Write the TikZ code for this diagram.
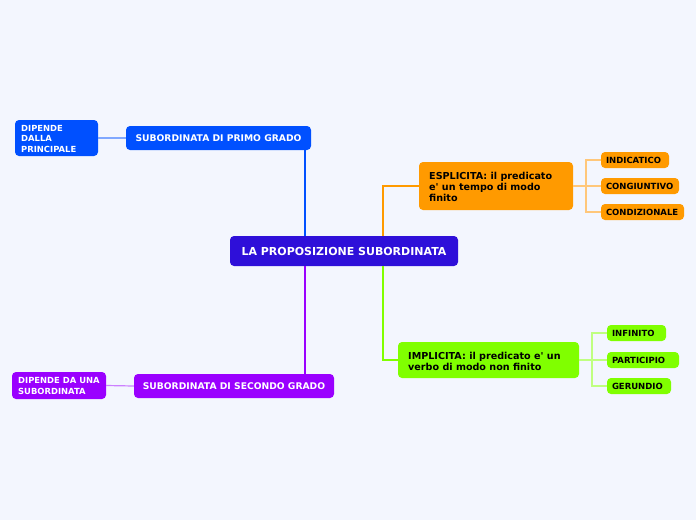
\documentclass[tikz,border=0pt]{standalone}
\usepackage{fontspec}
\setmainfont{DejaVu Sans}[BoldFont={DejaVu Sans Bold},Ligatures=TeXOff]
\definecolor{bg}{HTML}{F3F6FE}
\definecolor{cmain}{HTML}{2E0FD9}
\definecolor{cblue}{HTML}{0050FF}
\definecolor{cpurp}{HTML}{9A00FF}
\definecolor{corange}{HTML}{FF9A00}
\definecolor{cgreen}{HTML}{80FF00}
\definecolor{lorange}{HTML}{FFC77A}
\definecolor{lgreen}{HTML}{BFFF80}
\definecolor{lblue}{HTML}{80A8FF}
\definecolor{lpurp}{HTML}{CC80FF}
\begin{document}
\begin{tikzpicture}[x=1pt,y=-1pt,
  link/.style={line width=1.8pt},
  sublink/.style={line width=1.2pt}]
\fill[bg] (0,0) rectangle (696,520);
\useasboundingbox (0,0) rectangle (696,520);
\newcommand\mybox[6]{% name,x1,y1,x2,y2,fill
  \fill[#6,rounded corners=4pt] (#2,#3) rectangle (#4,#5);
  \node[inner sep=0pt,minimum width={#4-#2},minimum height={#5-#3}] (#1) at ({(#2+#4)/2},{(#3+#5)/2}) {};}
\mybox{main}{230}{236}{458}{266}{cmain}
\mybox{primo}{126}{126}{311}{150}{cblue}
\mybox{dip1}{15}{120}{98}{156}{cblue}
\mybox{sec}{134}{374}{334}{398}{cpurp}
\mybox{dip2}{12}{372}{106}{399}{cpurp}
\mybox{espl}{419}{162}{573}{210}{corange}
\mybox{ind}{601}{152}{669}{168}{corange}
\mybox{cong}{601}{178}{679}{194}{corange}
\mybox{cond}{601}{204}{684}{220}{corange}
\mybox{impl}{398}{342}{579}{378}{cgreen}
\mybox{inf}{607}{325}{666}{341}{cgreen}
\mybox{part}{607}{352}{679}{368}{cgreen}
\mybox{ger}{607}{378}{671}{394}{cgreen}
% texts
\tikzset{t/.style={inner sep=0pt,font=\fontsize{9.2}{11}\selectfont\bfseries},
  s/.style={inner sep=0pt,black,anchor=west,font=\fontsize{8.5}{10}\selectfont\bfseries},
  ml/.style={inner sep=0pt,anchor=north west,align=left}}
\node[inner sep=0pt,white,font=\fontsize{11}{13}\selectfont\bfseries] at (main) {LA PROPOSIZIONE SUBORDINATA};
\node[t,white] at (primo) {SUBORDINATA DI PRIMO GRADO};
\node[t,white] at (sec) {SUBORDINATA DI SECONDO GRADO};
\node[ml,white,font=\fontsize{8.4}{10.5}\selectfont\bfseries] at (21,125) {DIPENDE\\DALLA\\PRINCIPALE};
\node[ml,white,font=\fontsize{8.4}{11}\selectfont\bfseries] at (18,377) {DIPENDE DA UNA\\SUBORDINATA};
\node[ml,black,font=\fontsize{9.6}{11}\selectfont\bfseries] at (429,172) {ESPLICITA: il predicato\\e' un tempo di modo\\finito};
\node[ml,black,font=\fontsize{9.6}{11}\selectfont\bfseries] at (408,352) {IMPLICITA: il predicato e' un\\verbo di modo non finito};
\node[s] at ([xshift=5pt]ind.west) {INDICATICO};
\node[s] at ([xshift=5pt]cong.west) {CONGIUNTIVO};
\node[s] at ([xshift=5pt]cond.west) {CONDIZIONALE};
\node[s] at ([xshift=5pt]inf.west) {INFINITO};
\node[s] at ([xshift=5pt]part.west) {PARTICIPIO};
\node[s] at ([xshift=5pt]ger.west) {GERUNDIO};
% connectors
\coordinate (m1) at (305,236);
\coordinate (m2) at (305,266);
\coordinate (m3) at (383,236);
\coordinate (m4) at (383,266);
\draw[link,cblue] (m1) -- (primo.south -| m1);
\draw[link,cpurp] (m2) -- (sec.north -| m2);
\draw[link,corange] (m3) |- (espl.west);
\draw[link,cgreen] (m4) |- (impl.west);
\draw[sublink,lblue] (primo.west) -- (dip1.east);
\draw[sublink,lpurp] (sec.west) -- (dip2.east);
\coordinate (eo) at (586,186);
\draw[sublink,lorange] (espl.east) -- (eo);
\draw[sublink,lorange] (eo) |- (ind.west);
\draw[sublink,lorange] (eo) |- (cong.west);
\draw[sublink,lorange] (eo) |- (cond.west);
\coordinate (io) at (592,360);
\draw[sublink,lgreen] (impl.east) -- (io);
\draw[sublink,lgreen] (io) |- (inf.west);
\draw[sublink,lgreen] (io) |- (part.west);
\draw[sublink,lgreen] (io) |- (ger.west);
\end{tikzpicture}
\end{document}
